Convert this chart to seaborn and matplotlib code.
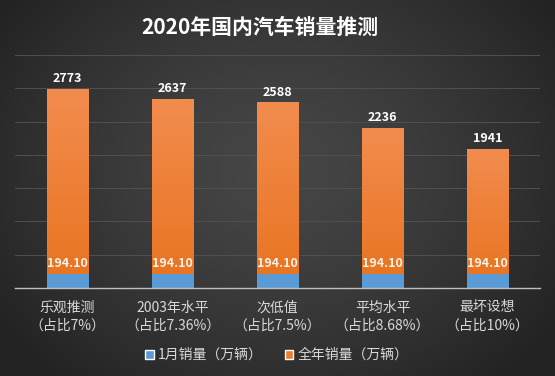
import numpy as np
import pandas as pd
import matplotlib
matplotlib.use("Agg")
import matplotlib.pyplot as plt
import seaborn as sns
from matplotlib.patches import Patch

# ---- data ----
names = ["乐观推测", "2003年水平", "次低值", "平均水平", "最坏设想"]
shares = ["占比7%", "占比7.36%", "占比7.5%", "占比8.68%", "占比10%"]
annual = [2773, 2637, 2588, 2236, 1941]
january = [194.10, 194.10, 194.10, 194.10, 194.10]
series_names = ["1月销量（万辆）", "全年销量（万辆）"]
title = "2020年国内汽车销量推测"

cats = [f"{n}\n（{s}）" for n, s in zip(names, shares)]
df = pd.DataFrame({
    "cat": cats * 2,
    "series": [series_names[1]] * 5 + [series_names[0]] * 5,
    "value": annual + january,
})

sns.set_theme(style="white")
plt.rcParams["font.family"] = ["Noto Sans CJK SC", "DejaVu Sans"]

W, H = 555, 376
fig = plt.figure(figsize=(W / 100, H / 100), dpi=100)

# background radial gradient
bg = fig.add_axes([0, 0, 1, 1], zorder=-10)
yy, xx = np.mgrid[0:1:200j, 0:1:300j]
r = np.sqrt(((xx - 0.5) / 0.62) ** 2 + ((yy - 0.45) / 0.75) ** 2)
t = np.clip(r, 0, 1) ** 1.4
c0 = np.array([0x46, 0x46, 0x46]) / 255
c1 = np.array([0x22, 0x22, 0x22]) / 255
img = c0[None, None, :] * (1 - t[..., None]) + c1[None, None, :] * t[..., None]
bg.imshow(img, aspect="auto", extent=[0, 1, 0, 1], origin="upper")
bg.set_axis_off()

ax = fig.add_axes([15 / W, 1 - 288 / H, 525 / W, 235 / H])
ax.patch.set_alpha(0)

orange = "#ED7D31"
blue = "#5B9BD5"
sns.barplot(data=df, x="cat", y="value", hue="series",
            hue_order=[series_names[1], series_names[0]],
            palette=[orange, blue], dodge=False, width=0.4,
            ax=ax, legend=False, zorder=3, saturation=1,
            linewidth=0, edgecolor="none")

ymax = 3250
ytop = ymax * 235 / 233
ax.set_ylim(0, ytop)
ax.set_xlim(-0.5, 4.5)
ax.set_yticks(np.linspace(0, ymax, 8))
ax.set_yticklabels([])
ax.tick_params(axis="y", length=0)
ax.grid(axis="y", color="#505050", linewidth=0.7, zorder=0)
ax.set_axisbelow(True)
for s in ["top", "right", "left"]:
    ax.spines[s].set_visible(False)
ax.spines["bottom"].set_color("#bfbfbf")
ax.spines["bottom"].set_linewidth(1.0)
ax.spines["bottom"].set_zorder(5)
ax.set_xlabel("")
ax.set_ylabel("")
ax.tick_params(axis="x", length=0, pad=9, colors="#d9d9d9", labelsize=10)
for lab in ax.get_xticklabels():
    lab.set_linespacing(1.4)

# gradient on orange bars
grad = np.linspace(0, 1, 100)[:, None]
cmap = matplotlib.colors.LinearSegmentedColormap.from_list(
    "og", ["#E8731F", "#F28C4E"])
for p in ax.patches[:5]:
    x0, y0 = p.get_x(), p.get_y()
    w, h = p.get_width(), p.get_height()
    im = ax.imshow(grad, cmap=cmap, extent=[x0, x0 + w, y0, y0 + h],
                   origin="lower", aspect="auto", zorder=3.5)
    im.set_clip_path(p)
ax.set_xlim(-0.5, 4.5)
ax.set_ylim(0, ytop)
for p in ax.patches[5:]:
    p.set_zorder(4)

# value labels
for i, v in enumerate(annual):
    ax.text(i, v + 55, f"{v}", ha="center", va="bottom", color="white",
            fontsize=9, fontweight="bold", zorder=6)
for i, v in enumerate(january):
    ax.text(i, v + 60, f"{v:.2f}", ha="center", va="bottom", color="#fbf3e8",
            fontsize=9, fontweight="bold", zorder=6)

fig.text(260 / W, 1 - 27 / H, title, ha="center", va="center",
         color="white", fontsize=15, fontweight="bold")

handles = [Patch(facecolor=blue), Patch(facecolor=orange)]
fig.legend(handles, series_names, loc="center", bbox_to_anchor=(277 / W, 1 - 355 / H),
           ncol=2, frameon=False, fontsize=10, labelcolor="#d9d9d9",
           handlelength=0.6, handleheight=0.6, handletextpad=0.3, columnspacing=1.6)

fig.savefig("out.png", dpi=100)
